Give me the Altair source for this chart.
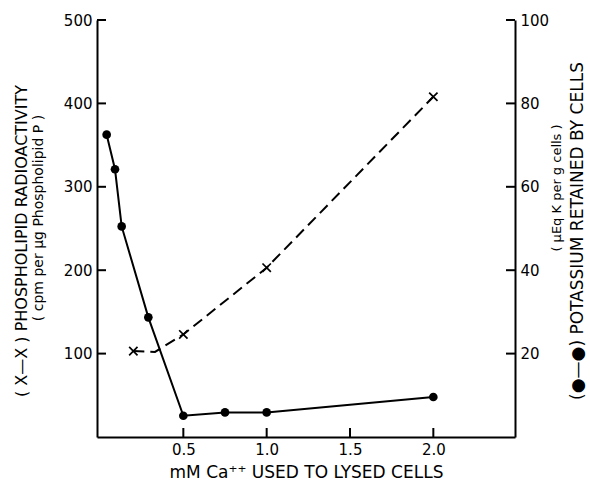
import altair as alt
import pandas as pd

# ---- data ----
phos_x = [0.2, 0.5, 1.0, 2.0]
phos_y = [103, 123, 203, 408]
phos_line_x = [0.2, 0.33, 0.5, 1.0, 2.0]
phos_line_y = [103, 102, 123, 203, 408]
pot_x = [0.04, 0.09, 0.13, 0.29, 0.5, 0.75, 1.0, 2.0]
pot_y = [72.5, 64.2, 50.5, 28.7, 5.1, 5.9, 5.9, 9.6]
x_ticks = [0.5, 1.0, 1.5, 2.0]
left_ticks = [100, 200, 300, 400, 500]
right_ticks = [20, 40, 60, 80, 100]
x_title = "mM Ca⁺⁺ USED TO LYSED CELLS"
left_title = ["( X—X ) PHOSPHOLIPID RADIOACTIVITY", "( cpm per µg Phospholipid P )"]
right_title = ["( µEq K per g cells )", "(●—●) POTASSIUM RETAINED BY CELLS"]

W, H = 418, 417
FONT = "DejaVu Sans"

xscale = alt.Scale(domain=[-0.018, 2.49], nice=False, zero=False)
lscale = alt.Scale(domain=[0, 500], nice=False)
rscale = alt.Scale(domain=[0, 100], nice=False)

xaxis = alt.Axis(values=x_ticks, format=".1f", ticks=False, grid=False,
                 title=x_title, titleFontSize=17, labelPadding=5, titlePadding=7)
laxis = alt.Axis(orient="left", values=left_ticks, ticks=False, grid=False,
                 labelPadding=5, title=None)
raxis = alt.Axis(orient="right", values=right_ticks, ticks=False, grid=False,
                 labelPadding=5, title=None)

def X(field):
    return alt.X(f"{field}:Q", scale=xscale, axis=xaxis)

df_phos = pd.DataFrame({"x": phos_x, "y": phos_y})
df_phos_line = pd.DataFrame({"x": phos_line_x, "y": phos_line_y})
df_pot = pd.DataFrame({"x": pot_x, "y": pot_y})
df_xt = pd.DataFrame({"v": x_ticks})
df_lt = pd.DataFrame({"v": left_ticks})
df_rt = pd.DataFrame({"v": right_ticks})

yl = alt.Y("y:Q", scale=lscale, axis=laxis)
yr = alt.Y("y:Q", scale=rscale, axis=raxis)

dash_line = alt.Chart(df_phos_line).mark_line(
    strokeDash=[11, 6], strokeWidth=2, color="black"
).encode(x=X("x"), y=yl)

x_marks = alt.Chart(df_phos).mark_point(
    shape="M-1,-1L1,1M-1,1L1,-1", filled=False, size=70, strokeWidth=1.7,
    color="black", opacity=1
).encode(x=X("x"), y=yl)

left_tick_rules = alt.Chart(df_lt).mark_rule(strokeWidth=2, color="black").encode(
    y=alt.Y("v:Q", scale=lscale, axis=laxis), x=alt.value(0), x2=alt.value(9))

bottom_tick_rules = alt.Chart(df_xt).mark_rule(strokeWidth=2, color="black").encode(
    x=X("v"), y=alt.value(H - 9), y2=alt.value(H))

pot_line = alt.Chart(df_pot).mark_line(strokeWidth=2, color="black").encode(
    x=X("x"), y=yr)

pot_pts = alt.Chart(df_pot).mark_circle(size=75, color="black", opacity=1).encode(
    x=X("x"), y=yr)

right_tick_rules = alt.Chart(df_rt).mark_rule(strokeWidth=2, color="black").encode(
    y=alt.Y("v:Q", scale=rscale, axis=raxis), x=alt.value(W - 9), x2=alt.value(W))


def title_line(text, px, py, size):
    return alt.Chart(pd.DataFrame({"t": [text]})).mark_text(
        angle=270, align="center", baseline="middle", font=FONT,
        fontSize=size, color="black"
    ).encode(text="t:N", x=alt.value(px), y=alt.value(py))


titles = alt.layer(
    title_line(left_title[0], -75, 221, 16),
    title_line(left_title[1], -58, 198, 14),
    title_line(right_title[0], 460, 168, 13),
    title_line(right_title[1], 481, 211, 17),
)

left = alt.layer(dash_line, x_marks, left_tick_rules, bottom_tick_rules)
right = alt.layer(pot_line, pot_pts, right_tick_rules)

chart = alt.layer(left, right, titles).resolve_scale(y="independent").properties(
    width=W, height=H,
    autosize=alt.AutoSizeParams(type="none"),
    padding={"left": 97, "top": 20, "right": 75, "bottom": 43},
    background="white",
).configure_view(stroke=None).configure_axis(
    domainWidth=2, domainColor="black", labelColor="black", titleColor="black",
    labelFont=FONT, titleFont=FONT, labelFontSize=15, titleFontSize=14,
    titleFontWeight="normal",
)

chart.save("out.html", embed_options={"renderer": "svg", "actions": False})
